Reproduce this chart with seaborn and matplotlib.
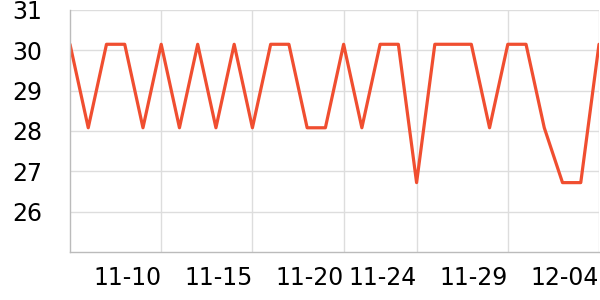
import matplotlib
matplotlib.use("Agg")
import matplotlib.pyplot as plt
import matplotlib.dates as mdates
import seaborn as sns
import pandas as pd

dates = pd.date_range("2023-11-05", "2023-12-04", freq="D")
values = [30.15, 28.08, 30.15, 30.15, 28.08, 30.15, 28.08, 30.15, 28.08, 30.15,
          28.08, 30.15, 30.15, 28.08, 28.08, 30.15, 28.08, 30.15, 30.15, 26.72,
          30.15, 30.15, 30.15, 28.08, 30.15, 30.15, 28.08, 26.72, 26.72, 30.15]
tick_dates = pd.to_datetime(["2023-11-10", "2023-11-15", "2023-11-20",
                             "2023-11-24", "2023-11-29", "2023-12-04"])
yticks = [26, 27, 28, 29, 30, 31]

sns.set_style("white")
plt.rcParams['font.family'] = ['DejaVu Sans']

df = pd.DataFrame({"date": dates, "value": values})
fig = plt.figure(figsize=(6, 3), dpi=100)
ax = fig.add_axes([70/600, 1 - 252/300, 529/600, 242/300])
sns.lineplot(data=df, x="date", y="value", ax=ax, color="#f04e30", linewidth=2.3)

ax.set_xlim(dates[0], dates[-1])
ax.set_ylim(25, 31)
ax.set_yticks(yticks)
ax.set_xticks(tick_dates)
ax.xaxis.set_major_formatter(mdates.DateFormatter("%m-%d"))
for lbl in ax.get_xticklabels():
    lbl.set_horizontalalignment("right")
ax.set_xlabel("")
ax.set_ylabel("")
ax.grid(True, color="#dddddd", linewidth=1)
for s in ["top", "right"]:
    ax.spines[s].set_visible(False)
for s in ["left", "bottom"]:
    ax.spines[s].set_color("#bbbbbb")
    ax.spines[s].set_linewidth(1)
ax.tick_params(axis="both", which="major", labelsize=17, colors="#bbbbbb",
               labelcolor="black", length=3, width=1)
ax.tick_params(axis="y", pad=17)
ax.tick_params(axis="x", pad=7)
ax.set_axisbelow(True)
fig.savefig("out.png", dpi=100)
